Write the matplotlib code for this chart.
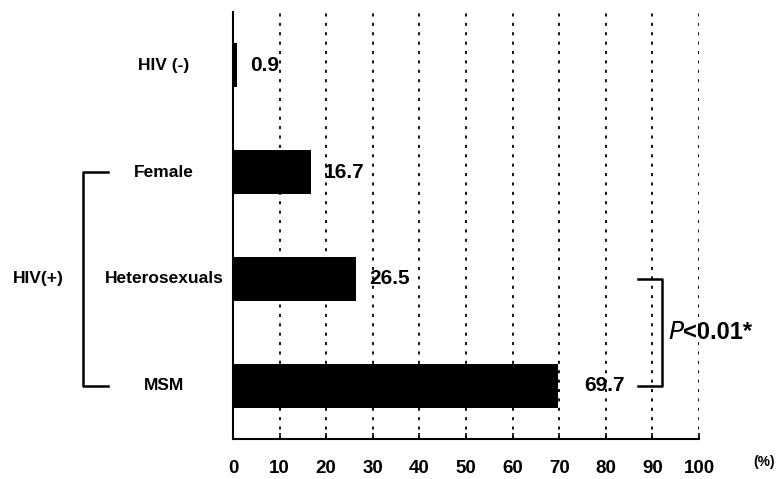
import matplotlib.pyplot as plt

plt.rcParams['font.family'] = ['Liberation Sans', 'DejaVu Sans']

# data
groups = ['HIV (-)', 'Female', 'Heterosexuals', 'MSM']
rates = [0.9, 16.7, 26.5, 69.7]
rate_labels = ['0.9', '16.7', '26.5', '69.7']
xticks = [0, 10, 20, 30, 40, 50, 60, 70, 80, 90, 100]

fig = plt.figure(figsize=(7.79, 4.79), dpi=100)
ax = fig.add_axes([233 / 779, 1 - 439 / 479, 466 / 779, 427 / 479])

ypos = list(range(len(groups)))
ax.barh(ypos, rates, height=0.41, color='black', zorder=3)
ax.set_ylim(len(groups) - 0.5, -0.5)
ax.set_xlim(0, 100)

# dotted grid
for x in xticks[1:]:
    ax.axvline(x, color='black', lw=1.3, linestyle=(0, (1.7, 3.5)), zorder=1)

for s in ['top', 'right']:
    ax.spines[s].set_visible(False)
ax.spines['left'].set_linewidth(1.5)
ax.spines['bottom'].set_linewidth(1.5)
ax.set_yticks([])
ax.set_xticks(xticks)
ax.tick_params(axis='x', direction='in', length=4, width=1.2, pad=15)
for lbl in ax.get_xticklabels():
    lbl.set_fontsize(13.5)
    lbl.set_fontweight('bold')

# category labels
ytr = ax.get_yaxis_transform()
for i, g in enumerate(groups):
    ax.text(-0.148, i, g, transform=ytr, ha='center', va='center',
            fontsize=12.5, fontweight='bold')

# value labels
for i, (v, t) in enumerate(zip(rates, rate_labels)):
    if i == len(rates) - 1:
        ax.text(84, i, t, ha='right', va='center', fontsize=15, fontweight='bold')
    else:
        ax.annotate(t, (v, i), xytext=(9, 0), textcoords='offset points',
                    ha='left', va='center', fontsize=15, fontweight='bold')

# HIV(+) bracket
bx0, bx1 = -0.322, -0.268
ax.plot([bx1, bx0, bx0, bx1], [1, 1, 3, 3], color='black', lw=1.8,
        transform=ytr, clip_on=False)
ax.text(-0.418, 2, 'HIV(+)', transform=ytr, ha='center', va='center',
        fontsize=12.5, fontweight='bold')

# significance bracket
ax.plot([86.9, 92.1, 92.1, 86.9], [2, 2, 3, 3], color='black', lw=1.8,
        clip_on=False)
ax.text(93.3, 2.5, r'$\mathit{P}$', ha='left', va='center', fontsize=18)
ax.text(96.6, 2.5, '<0.01*', ha='left', va='center', fontsize=17, fontweight='bold')

ax.text(114, -0.054, '(%)', transform=ax.get_xaxis_transform(), ha='center',
        va='center', fontsize=10, fontweight='bold')

fig.savefig('out.png', dpi=100)
